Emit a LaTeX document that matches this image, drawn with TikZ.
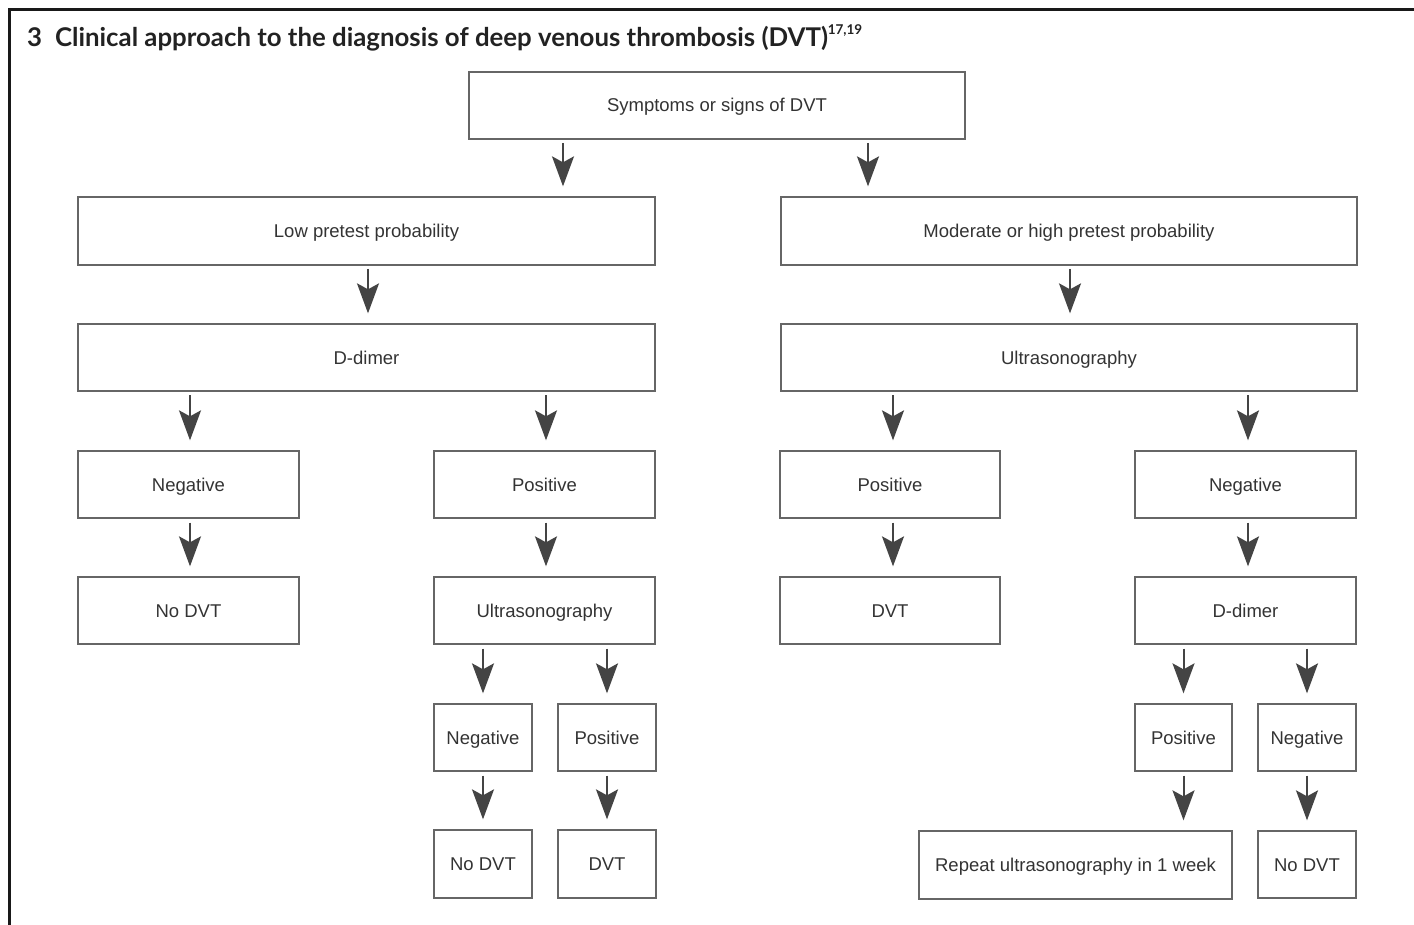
\documentclass[tikz,border=0pt]{standalone}
\usepackage{fontspec}
\setmainfont{Liberation Sans}
\newfontfamily\titlefont{Lato}
\usetikzlibrary{arrows.meta}
\definecolor{boxline}{HTML}{666666}
\definecolor{arrcol}{HTML}{444444}
\definecolor{txt}{HTML}{333333}
\definecolor{ttl}{HTML}{222222}
\tikzset{
  box/.style={draw=boxline, line width=1.3pt, inner sep=0pt, text height=14pt, text depth=1pt, text=txt, font=\fontsize{18.5}{22}\selectfont},
  arr/.style={draw=arrcol, line width=2pt, -{Stealth[length=30pt,width=22pt,inset=6pt]}, shorten <=4pt, shorten >=10pt},
}
\newcommand\bx[6]{\node[box, minimum width={#4-#2}, minimum height={#5-#3}] (#1) at ({(#2+#4)/2},{(#3+#5)/2}) {#6};}
\begin{document}
\begin{tikzpicture}[x=1pt,y=-1pt]
\useasboundingbox (0,0) rectangle (1414,925);
\draw[line width=3pt, black!90] (9,925) -- (9,10) -- (1414,10);
\node[anchor=base west, inner sep=0pt, text=ttl, font=\titlefont\bfseries\fontsize{25.8}{30}\selectfont] (title) at (27,47) {3\hspace{0.5em}Clinical approach to the diagnosis of deep venous thrombosis (DVT)\raisebox{12pt}{\fontsize{13.5}{14}\selectfont 17,19}};
\bx{sym}{469}{72}{965}{139}{Symptoms or signs of DVT}
\bx{low}{78}{197}{655}{265}{Low pretest probability}
\bx{mod}{781}{197}{1357}{265}{Moderate or high pretest probability}
\bx{ddl}{78}{324}{655}{391}{D-dimer}
\bx{usr}{781}{324}{1357}{391}{Ultrasonography}
\bx{negl}{78}{451}{299}{518}{Negative}
\bx{posl}{434}{451}{655}{518}{Positive}
\bx{posr}{780}{451}{1000}{518}{Positive}
\bx{negr}{1135}{451}{1356}{518}{Negative}
\bx{nodvta}{78}{577}{299}{644}{No DVT}
\bx{usl}{434}{577}{655}{644}{Ultrasonography}
\bx{dvta}{780}{577}{1000}{644}{DVT}
\bx{ddr}{1135}{577}{1356}{644}{D-dimer}
\bx{negll}{434}{704}{532}{771}{Negative}
\bx{poslr}{558}{704}{656}{771}{Positive}
\bx{posrl}{1135}{704}{1232}{771}{Positive}
\bx{negrr}{1258}{704}{1356}{771}{Negative}
\bx{nodvtb}{434}{830}{532}{898}{No DVT}
\bx{dvtb}{558}{830}{656}{898}{DVT}
\bx{repeat}{919}{831}{1232}{899}{Repeat ultrasonography in 1 week}
\bx{nodvtc}{1258}{831}{1356}{898}{No DVT}
% arrows
\coordinate (s1) at (563,139);
\coordinate (s2) at (868,139);
\coordinate (lowa) at (368,265);
\coordinate (moda) at (1070,265);
\coordinate (ddla) at (190,391);
\coordinate (ddlb) at (546,391);
\coordinate (usra) at (893,391);
\coordinate (usrb) at (1248,391);
\draw[arr] (s1) -- (s1 |- low.north);
\draw[arr] (s2) -- (s2 |- mod.north);
\draw[arr] (lowa) -- (lowa |- ddl.north);
\draw[arr] (moda) -- (moda |- usr.north);
\draw[arr] (ddla) -- (ddla |- negl.north);
\draw[arr] (ddlb) -- (ddlb |- posl.north);
\draw[arr] (usra) -- (usra |- posr.north);
\draw[arr] (usrb) -- (usrb |- negr.north);
\draw[arr] (negl.south -| ddla) -- (nodvta.north -| ddla);
\draw[arr] (posl.south -| ddlb) -- (usl.north -| ddlb);
\draw[arr] (posr.south -| usra) -- (dvta.north -| usra);
\draw[arr] (negr.south -| usrb) -- (ddr.north -| usrb);
\draw[arr] (usl.south -| negll) -- (negll.north);
\draw[arr] (usl.south -| poslr) -- (poslr.north);
\draw[arr] (ddr.south -| posrl) -- (posrl.north);
\draw[arr] (ddr.south -| negrr) -- (negrr.north);
\draw[arr] (negll.south) -- (nodvtb.north);
\draw[arr] (poslr.south) -- (dvtb.north);
\draw[arr] (posrl.south) -- (repeat.north -| posrl);
\draw[arr] (negrr.south) -- (nodvtc.north -| negrr);
\end{tikzpicture}
\end{document}
